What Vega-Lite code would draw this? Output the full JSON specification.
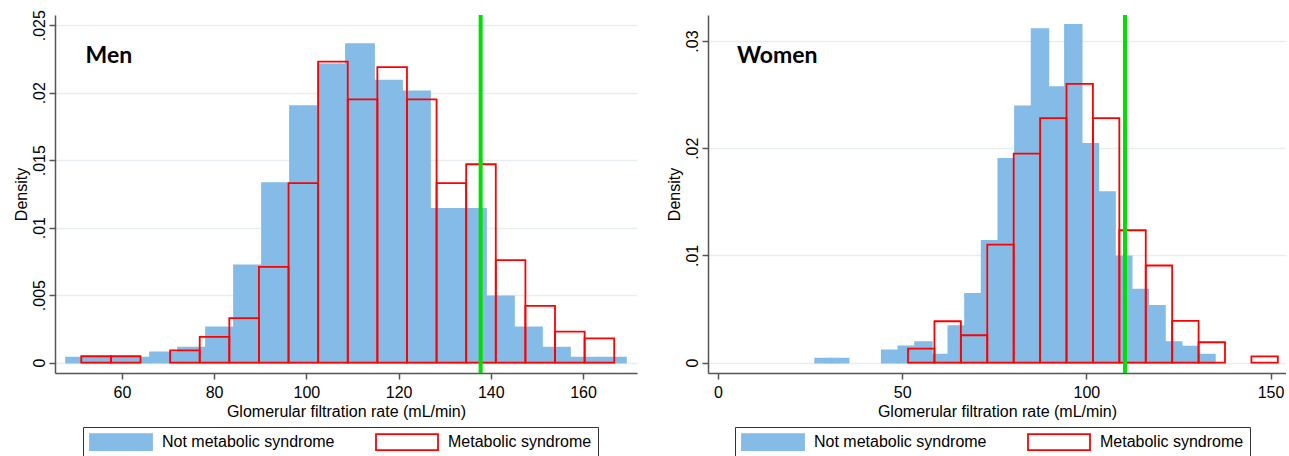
{
  "$schema": "https://vega.github.io/schema/vega-lite/v6.json",
  "padding": {"left": 13, "top": 9, "right": 0, "bottom": 0},
  "spacing": 29,
  "background": "#ffffff",
  "datasets": {
    "men": [
      {"lo": 47.9, "hi": 53.97, "density": 0.00037, "group": "Not metabolic syndrome"},
      {"lo": 53.97, "hi": 60.04, "density": 0.00037, "group": "Not metabolic syndrome"},
      {"lo": 60.04, "hi": 66.11, "density": 0.00037, "group": "Not metabolic syndrome"},
      {"lo": 66.11, "hi": 72.18, "density": 0.00076, "group": "Not metabolic syndrome"},
      {"lo": 72.18, "hi": 78.25, "density": 0.0011, "group": "Not metabolic syndrome"},
      {"lo": 78.25, "hi": 84.32, "density": 0.0026, "group": "Not metabolic syndrome"},
      {"lo": 84.32, "hi": 90.39, "density": 0.0072, "group": "Not metabolic syndrome"},
      {"lo": 90.39, "hi": 96.46, "density": 0.0133, "group": "Not metabolic syndrome"},
      {"lo": 96.46, "hi": 102.53, "density": 0.019, "group": "Not metabolic syndrome"},
      {"lo": 102.53, "hi": 108.6, "density": 0.0221, "group": "Not metabolic syndrome"},
      {"lo": 108.6, "hi": 114.67, "density": 0.0236, "group": "Not metabolic syndrome"},
      {"lo": 114.67, "hi": 120.74, "density": 0.0209, "group": "Not metabolic syndrome"},
      {"lo": 120.74, "hi": 126.81, "density": 0.0201, "group": "Not metabolic syndrome"},
      {"lo": 126.81, "hi": 132.88, "density": 0.0114, "group": "Not metabolic syndrome"},
      {"lo": 132.88, "hi": 138.95, "density": 0.0114, "group": "Not metabolic syndrome"},
      {"lo": 138.95, "hi": 145.02, "density": 0.0049, "group": "Not metabolic syndrome"},
      {"lo": 145.02, "hi": 151.09, "density": 0.0026, "group": "Not metabolic syndrome"},
      {"lo": 151.09, "hi": 157.16, "density": 0.0011, "group": "Not metabolic syndrome"},
      {"lo": 157.16, "hi": 163.23, "density": 0.00037, "group": "Not metabolic syndrome"},
      {"lo": 163.23, "hi": 169.3, "density": 0.00037, "group": "Not metabolic syndrome"},
      {"lo": 51.2, "hi": 57.62, "density": 0.00047, "group": "Metabolic syndrome"},
      {"lo": 57.62, "hi": 64.04, "density": 0.00047, "group": "Metabolic syndrome"},
      {"lo": 70.46, "hi": 76.88, "density": 0.0009, "group": "Metabolic syndrome"},
      {"lo": 76.88, "hi": 83.3, "density": 0.0019, "group": "Metabolic syndrome"},
      {"lo": 83.3, "hi": 89.72, "density": 0.0033, "group": "Metabolic syndrome"},
      {"lo": 89.72, "hi": 96.14, "density": 0.0071, "group": "Metabolic syndrome"},
      {"lo": 96.14, "hi": 102.56, "density": 0.0133, "group": "Metabolic syndrome"},
      {"lo": 102.56, "hi": 108.98, "density": 0.0223, "group": "Metabolic syndrome"},
      {"lo": 108.98, "hi": 115.4, "density": 0.0195, "group": "Metabolic syndrome"},
      {"lo": 115.4, "hi": 121.82, "density": 0.0219, "group": "Metabolic syndrome"},
      {"lo": 121.82, "hi": 128.24, "density": 0.0195, "group": "Metabolic syndrome"},
      {"lo": 128.24, "hi": 134.66, "density": 0.0133, "group": "Metabolic syndrome"},
      {"lo": 134.66, "hi": 141.08, "density": 0.0147, "group": "Metabolic syndrome"},
      {"lo": 141.08, "hi": 147.5, "density": 0.0076, "group": "Metabolic syndrome"},
      {"lo": 147.5, "hi": 153.92, "density": 0.0042, "group": "Metabolic syndrome"},
      {"lo": 153.92, "hi": 160.34, "density": 0.0023, "group": "Metabolic syndrome"},
      {"lo": 160.34, "hi": 166.76, "density": 0.0018, "group": "Metabolic syndrome"}
    ],
    "women": [
      {"lo": 26.4, "hi": 30.92, "density": 0.00037, "group": "Not metabolic syndrome"},
      {"lo": 30.92, "hi": 35.44, "density": 0.00037, "group": "Not metabolic syndrome"},
      {"lo": 44.48, "hi": 49.0, "density": 0.00115, "group": "Not metabolic syndrome"},
      {"lo": 49.0, "hi": 53.52, "density": 0.00152, "group": "Not metabolic syndrome"},
      {"lo": 53.52, "hi": 58.04, "density": 0.0019, "group": "Not metabolic syndrome"},
      {"lo": 58.04, "hi": 62.56, "density": 0.00075, "group": "Not metabolic syndrome"},
      {"lo": 62.56, "hi": 67.08, "density": 0.0034, "group": "Not metabolic syndrome"},
      {"lo": 67.08, "hi": 71.6, "density": 0.0064, "group": "Not metabolic syndrome"},
      {"lo": 71.6, "hi": 76.12, "density": 0.01135, "group": "Not metabolic syndrome"},
      {"lo": 76.12, "hi": 80.64, "density": 0.019, "group": "Not metabolic syndrome"},
      {"lo": 80.64, "hi": 85.16, "density": 0.0239, "group": "Not metabolic syndrome"},
      {"lo": 85.16, "hi": 89.68, "density": 0.0311, "group": "Not metabolic syndrome"},
      {"lo": 89.68, "hi": 94.2, "density": 0.0257, "group": "Not metabolic syndrome"},
      {"lo": 94.2, "hi": 98.72, "density": 0.0315, "group": "Not metabolic syndrome"},
      {"lo": 98.72, "hi": 103.24, "density": 0.0204, "group": "Not metabolic syndrome"},
      {"lo": 103.24, "hi": 107.76, "density": 0.0159, "group": "Not metabolic syndrome"},
      {"lo": 107.76, "hi": 112.28, "density": 0.0099, "group": "Not metabolic syndrome"},
      {"lo": 112.28, "hi": 116.8, "density": 0.0068, "group": "Not metabolic syndrome"},
      {"lo": 116.8, "hi": 121.32, "density": 0.0053, "group": "Not metabolic syndrome"},
      {"lo": 121.32, "hi": 125.84, "density": 0.0019, "group": "Not metabolic syndrome"},
      {"lo": 125.84, "hi": 130.36, "density": 0.0015, "group": "Not metabolic syndrome"},
      {"lo": 130.36, "hi": 134.88, "density": 0.00075, "group": "Not metabolic syndrome"},
      {"lo": 51.6, "hi": 58.77, "density": 0.0013, "group": "Metabolic syndrome"},
      {"lo": 58.77, "hi": 65.94, "density": 0.00386, "group": "Metabolic syndrome"},
      {"lo": 65.94, "hi": 73.11, "density": 0.00255, "group": "Metabolic syndrome"},
      {"lo": 73.11, "hi": 80.28, "density": 0.011, "group": "Metabolic syndrome"},
      {"lo": 80.28, "hi": 87.45, "density": 0.0195, "group": "Metabolic syndrome"},
      {"lo": 87.45, "hi": 94.62, "density": 0.0228, "group": "Metabolic syndrome"},
      {"lo": 94.62, "hi": 101.79, "density": 0.026, "group": "Metabolic syndrome"},
      {"lo": 101.79, "hi": 108.96, "density": 0.0228, "group": "Metabolic syndrome"},
      {"lo": 108.96, "hi": 116.13, "density": 0.01235, "group": "Metabolic syndrome"},
      {"lo": 116.13, "hi": 123.3, "density": 0.00906, "group": "Metabolic syndrome"},
      {"lo": 123.3, "hi": 130.47, "density": 0.00389, "group": "Metabolic syndrome"},
      {"lo": 130.47, "hi": 137.64, "density": 0.0019, "group": "Metabolic syndrome"},
      {"lo": 144.81, "hi": 151.98, "density": 0.00059, "group": "Metabolic syndrome"}
    ]
  },
  "hconcat": [
    {
      "width": 582,
      "height": 358,
      "layer": [
        {
          "data": {"name": "men"},
          "mark": {"type": "rect", "strokeWidth": 1.8},
          "encoding": {
            "x": {"field": "lo", "type": "quantitative", "scale": {"domain": [45.5, 171.7], "nice": false, "zero": false},
                  "axis": {"title": "Glomerular filtration rate (mL/min)", "values": [60, 80, 100, 120, 140, 160], "grid": false}},
            "x2": {"field": "hi"},
            "y": {"field": "density", "type": "quantitative", "scale": {"domain": [-0.00077, 0.02576], "nice": false, "zero": false},
                  "axis": {"title": "Density", "values": [0, 0.005, 0.01, 0.015, 0.02, 0.025],
                           "labelExpr": "datum.value == 0 ? '0' : slice(format(datum.value, '.3~f'), 1)"}},
            "y2": {"datum": 0},
            "fill": {"field": "group", "type": "nominal",
                     "scale": {"domain": ["Not metabolic syndrome", "Metabolic syndrome"], "range": ["#84BCE7", "transparent"]},
                     "legend": {"title": null, "orient": "none", "legendX": 28, "legendY": 412}},
            "stroke": {"field": "group", "type": "nominal",
                       "scale": {"domain": ["Not metabolic syndrome", "Metabolic syndrome"], "range": ["#84BCE7", "#FF0000"]},
                       "legend": {"title": null, "orient": "none", "legendX": 28, "legendY": 412}}
          }
        },
        {
          "data": {"values": [{}]},
          "mark": {"type": "rule", "color": "#00E000", "strokeWidth": 4},
          "encoding": {"x": {"datum": 137.8}}
        },
        {
          "data": {"values": [{}]},
          "mark": {"type": "text", "font": "Lato", "fontWeight": "bold", "fontSize": 23, "align": "left", "baseline": "alphabetic", "color": "#000"},
          "encoding": {"x": {"datum": 52.13}, "y": {"datum": 0.0222}, "text": {"value": "Men"}}
        }
      ]
    },
    {
      "width": 578,
      "height": 358,
      "layer": [
        {
          "data": {"name": "women"},
          "mark": {"type": "rect", "strokeWidth": 1.8},
          "encoding": {
            "x": {"field": "lo", "type": "quantitative", "scale": {"domain": [-2.7, 154.2], "nice": false, "zero": false},
                  "axis": {"title": "Glomerular filtration rate (mL/min)", "values": [0, 50, 100, 150], "grid": false}},
            "x2": {"field": "hi"},
            "y": {"field": "density", "type": "quantitative", "scale": {"domain": [-0.00097, 0.03243], "nice": false, "zero": false},
                  "axis": {"title": "Density", "values": [0, 0.01, 0.02, 0.03],
                           "labelExpr": "datum.value == 0 ? '0' : slice(format(datum.value, '.3~f'), 1)"}},
            "y2": {"datum": 0},
            "fill": {"field": "group", "type": "nominal",
                     "scale": {"domain": ["Not metabolic syndrome", "Metabolic syndrome"], "range": ["#84BCE7", "transparent"]},
                     "legend": {"title": null, "orient": "none", "legendX": 27, "legendY": 412}},
            "stroke": {"field": "group", "type": "nominal",
                       "scale": {"domain": ["Not metabolic syndrome", "Metabolic syndrome"], "range": ["#84BCE7", "#FF0000"]},
                       "legend": {"title": null, "orient": "none", "legendX": 27, "legendY": 412}}
          }
        },
        {
          "data": {"values": [{}]},
          "mark": {"type": "rule", "color": "#00E000", "strokeWidth": 4},
          "encoding": {"x": {"datum": 110.5}}
        },
        {
          "data": {"values": [{}]},
          "mark": {"type": "text", "font": "Lato", "fontWeight": "bold", "fontSize": 23, "align": "left", "baseline": "alphabetic", "color": "#000"},
          "encoding": {"x": {"datum": 5.16}, "y": {"datum": 0.02795}, "text": {"value": "Women"}}
        }
      ]
    }
  ],
  "resolve": {
    "scale": {"fill": "independent", "stroke": "independent"},
    "legend": {"fill": "independent", "stroke": "independent"}
  },
  "config": {
    "view": {"stroke": null},
    "font": "Liberation Sans",
    "axis": {
      "labelFont": "Liberation Sans", "titleFont": "Liberation Sans",
      "labelFontSize": 16, "titleFontSize": 16, "titleFontWeight": "normal",
      "labelColor": "#000", "titleColor": "#000",
      "domainColor": "#555555", "domainWidth": 1.5, "tickColor": "#555555", "tickWidth": 1.5, "tickSize": 6,
      "gridColor": "#E6EEF2", "gridWidth": 1.5, "labelPadding": 4
    },
    "axisY": {"labelAngle": -90, "labelAlign": "center", "labelBaseline": "alphabetic", "labelPadding": 5, "titlePadding": 2, "grid": true},
    "axisX": {"labelPadding": 5, "titlePadding": 3},
    "legend": {
      "direction": "horizontal",
      "labelFont": "Liberation Sans", "labelFontSize": 16, "labelColor": "#000",
      "strokeColor": "#333333", "fillColor": "#ffffff", "padding": 6,
      "symbolType": "M-1,-1H6.75V1H-1Z", "symbolSize": 256, "symbolStrokeWidth": 1.8,
      "labelOffset": 55, "columnPadding": 37, "labelLimit": 300
    }
  }
}
